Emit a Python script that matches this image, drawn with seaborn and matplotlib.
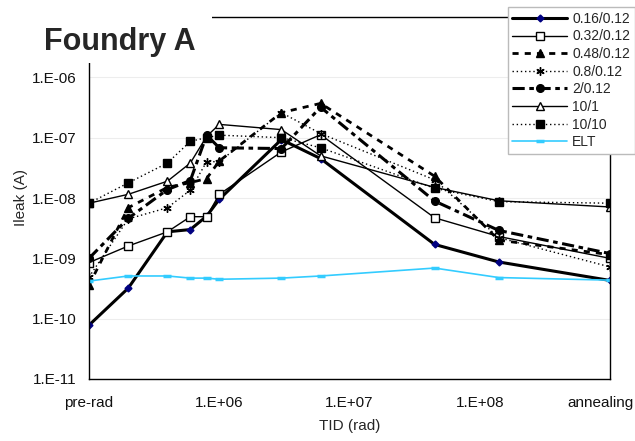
import matplotlib
matplotlib.use("Agg")
import matplotlib.pyplot as plt
import seaborn as sns
from matplotlib.patches import Rectangle
from matplotlib.ticker import FixedFormatter, FixedLocator, LogLocator, NullFormatter, NullLocator
from matplotlib.transforms import ScaledTranslation

# TID steps (rad); pre-rad and annealing are put at the ends of the log axis
tid = [1e5, 2e5, 4e5, 6e5, 8e5, 1e6, 3e6, 6e6, 4.5e7, 1.4e8, 1e9]

x_ticks = [1e5, 1e6, 1e7, 1e8, 1e9]
x_labels = ["pre-rad", "1.E+06", "1.E+07", "1.E+08", "annealing"]
y_ticks = [1e-11, 1e-10, 1e-9, 1e-8, 1e-7, 1e-6, 1e-5]
y_labels = ["1.E-11", "1.E-10", "1.E-09", "1.E-08", "1.E-07", "1.E-06", "1.E-05"]

# leakage current (A) per W/L
leak_016 = [7.8e-11, 3.2e-10, 2.75e-9, 3.0e-9, 5.0e-9, 9.5e-9, 9.3e-8, 4.5e-8, 1.7e-9, 8.7e-10, 4.3e-10]
leak_032 = [8.5e-10, 1.6e-9, 2.75e-9, 4.9e-9, 4.9e-9, 1.15e-8, 5.8e-8, 1.12e-7, 4.7e-9, 2.3e-9, 1.0e-9]
leak_048 = [3.6e-10, 6.9e-9, 1.5e-8, 1.8e-8, 2.1e-8, 4.1e-8, 2.6e-7, 3.7e-7, 2.3e-8, 2.0e-9, 1.15e-9]
leak_08 = [4.9e-10, 4.5e-9, 6.9e-9, 1.35e-8, 4.0e-8, 4.0e-8, 2.6e-7, 1.17e-7, 2.0e-8, 2.2e-9, 7.2e-10]
leak_2 = [1.0e-9, 4.6e-9, 1.38e-8, 1.95e-8, 1.1e-7, 6.8e-8, 6.6e-8, 3.2e-7, 8.9e-9, 2.9e-9, 1.2e-9]
leak_10_1 = [8.2e-9, 1.15e-8, 1.9e-8, 3.8e-8, 1.05e-7, 1.66e-7, 1.36e-7, 5.0e-8, 1.5e-8, 9.0e-9, 7.1e-9]
leak_10_10 = [8.2e-9, 1.78e-8, 3.8e-8, 8.7e-8, 1.0e-7, 1.1e-7, 1.0e-7, 6.8e-8, 1.45e-8, 8.7e-9, 8.2e-9]
leak_elt = [4.2e-10, 5.1e-10, 5.1e-10, 4.7e-10, 4.7e-10, 4.5e-10, 4.7e-10, 5.1e-10, 6.9e-10, 4.8e-10, 4.35e-10]

series_names = ["0.16/0.12", "0.32/0.12", "0.48/0.12", "0.8/0.12", "2/0.12", "10/1", "10/10", "ELT"]
series_values = [leak_016, leak_032, leak_048, leak_08, leak_2, leak_10_1, leak_10_10, leak_elt]

styles = {
    "0.16/0.12": dict(color="black", lw=2.2, ls="-", marker="D", ms=3.5, mfc="#000080", mec="#000080"),
    "0.32/0.12": dict(color="black", lw=1.0, ls="-", marker="s", ms=5.5, mfc="white", mec="black"),
    "0.48/0.12": dict(color="black", lw=2.0, ls=(0, (2.2, 2.2)), marker="^", ms=5.5, mfc="black", mec="black"),
    "0.8/0.12": dict(color="black", lw=1.0, ls=(0, (1, 2)), marker=(6, 2, 0), ms=6, mfc="black", mec="black"),
    "2/0.12": dict(color="black", lw=2.2, ls=(0, (4, 1.5, 1.5, 1.5)), marker="o", ms=5.5, mfc="black", mec="black"),
    "10/1": dict(color="black", lw=1.0, ls="-", marker="^", ms=5.5, mfc="white", mec="black"),
    "10/10": dict(color="black", lw=1.0, ls=(0, (1, 2)), marker="s", ms=5.5, mfc="black", mec="black"),
    "ELT": dict(color="#33CCFF", lw=1.2, ls="-", marker="_", ms=6, mfc="#33CCFF", mec="#33CCFF"),
}

sns.set_style("white")
plt.rcParams["font.family"] = ["Liberation Sans", "DejaVu Sans"]

fig = plt.figure(figsize=(6.35, 4.41), dpi=100)
ax = fig.add_axes([89 / 635, 1 - 379 / 441, 521 / 635, 362 / 441])
ax.set_xscale("log")
ax.set_yscale("log")

for name, vals in zip(series_names, series_values):
    st = styles[name]
    mew = 2.5 if name == "ELT" else 1.0
    sns.lineplot(
        x=tid, y=vals, ax=ax, label=name, sort=False, errorbar=None,
        color=st["color"], linewidth=st["lw"], linestyle=st["ls"],
        marker=st["marker"], markersize=st["ms"],
        markerfacecolor=st["mfc"], markeredgecolor=st["mec"], markeredgewidth=mew,
    )

ax.set_xlim(1e5, 1e9)
ax.set_ylim(1e-11, 1e-5)

ax.xaxis.set_major_locator(FixedLocator(x_ticks))
ax.xaxis.set_major_formatter(FixedFormatter(x_labels))
ax.xaxis.set_minor_locator(LogLocator(base=10, subs=range(2, 10), numticks=20))
ax.xaxis.set_minor_formatter(NullFormatter())
ax.yaxis.set_major_locator(FixedLocator(y_ticks))
ax.yaxis.set_major_formatter(FixedFormatter(y_labels))
ax.yaxis.set_minor_locator(NullLocator())

ax.tick_params(axis="both", which="both", direction="out", length=3, width=0.8,
               color="black", labelsize=11, labelcolor="#111111")
ax.tick_params(axis="x", which="both", pad=9)
ax.tick_params(axis="y", pad=6)
ax.yaxis.grid(True, color="#EDEDED", lw=0.8)
ax.set_axisbelow(True)
for sp in ax.spines.values():
    sp.set_color("black")
    sp.set_linewidth(1.0)

# "annealing" sits a bit left of its tick so it stays inside the figure
last = ax.get_xticklabels()[-1]
last.set_transform(last.get_transform() + ScaledTranslation(-10 / 100, 0, fig.dpi_scale_trans))

ax.set_xlabel("TID (rad)", fontsize=11, labelpad=7)
ax.set_ylabel("Ileak (A)", fontsize=11, labelpad=3)

leg = ax.legend(loc="upper right", bbox_to_anchor=(1.0, 1 - 7 / 441), bbox_transform=fig.transFigure,
                fontsize=10, frameon=True, fancybox=False, framealpha=1, edgecolor="#BBBBBB",
                handlelength=3.9, handletextpad=0.4, labelspacing=0.26, borderpad=0.35,
                borderaxespad=0, numpoints=1)
leg.get_frame().set_linewidth(1.0)

# white title box sitting over the top-left corner of the plot area
fig.patches.append(Rectangle((22 / 635, 1 - 63 / 441), 190 / 635, 57 / 441,
                             transform=fig.transFigure, facecolor="white", edgecolor="none", zorder=5))
fig.text(44 / 635, 1 - 50 / 441, "Foundry A", fontsize=22, fontweight="bold",
         va="baseline", ha="left", zorder=6)

fig.savefig("out.png", dpi=100)
